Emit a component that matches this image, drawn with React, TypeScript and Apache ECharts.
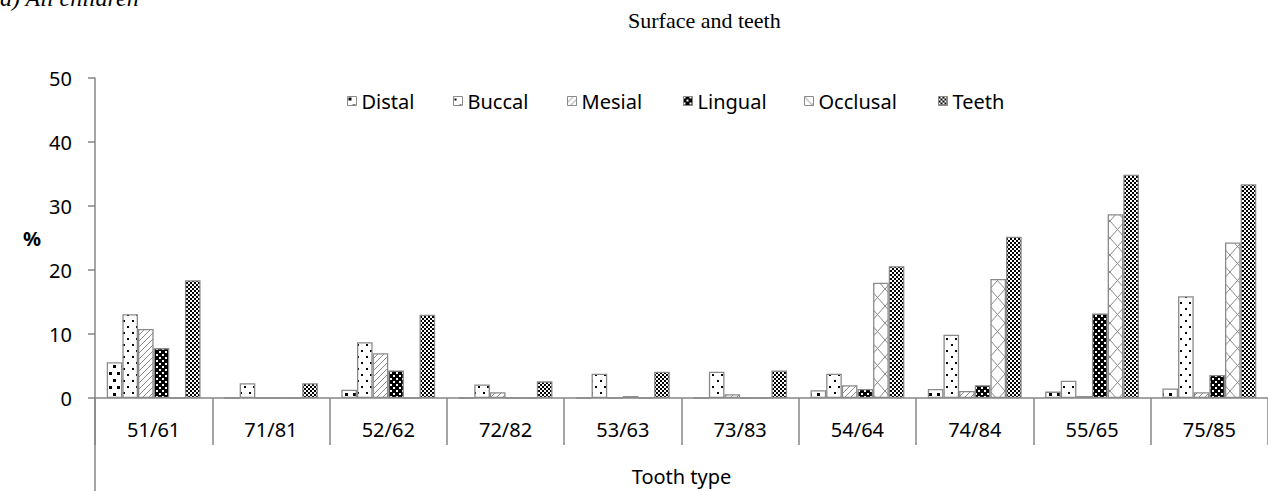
import React, { useEffect, useRef } from "react";
import * as echarts from "echarts";

const categories = ["51/61", "71/81", "52/62", "72/82", "53/63", "73/83", "54/64", "74/84", "55/65", "75/85"];
const seriesNames = ["Distal", "Buccal", "Mesial", "Lingual", "Occlusal", "Teeth"];
const distal = [5.6, 0, 1.3, 0, 0, 0, 1.2, 1.4, 1.0, 1.5];
const buccal = [13.1, 2.3, 8.7, 2.1, 3.8, 4.1, 3.8, 9.9, 2.7, 15.9];
const mesial = [10.8, 0, 7.0, 0.9, 0, 0.6, 2.0, 1.1, 0.3, 0.9];
const lingual = [7.8, 0, 4.3, 0, 0.3, 0, 1.4, 2.0, 13.2, 3.6];
const occlusal = [0, 0, 0, 0, 0, 0, 18.0, 18.6, 28.7, 24.3];
const teeth = [18.4, 2.3, 13.0, 2.6, 4.1, 4.3, 20.6, 25.2, 34.9, 33.4];
const yTicks = [0, 10, 20, 30, 40, 50];

const GREY = "#8a8a8a";
const AXIS = "#868686";
const FONT = "'Noto Sans', 'Open Sans', sans-serif";

function makeTile(w: number, h: number, draw: (ctx: CanvasRenderingContext2D) => void) {
  const c = document.createElement("canvas");
  c.width = w;
  c.height = h;
  const ctx = c.getContext("2d")!;
  ctx.fillStyle = "#ffffff";
  ctx.fillRect(0, 0, w, h);
  draw(ctx);
  return { image: c, repeat: "repeat" as const };
}

function patterns() {
  const distalP = makeTile(8, 14, (ctx) => {
    ctx.fillStyle = "#000";
    ctx.fillRect(1, 1, 3, 3);
    ctx.fillRect(5, 8, 3, 3);
  });
  const buccalP = makeTile(9, 12, (ctx) => {
    ctx.fillStyle = "#000";
    ctx.fillRect(1, 2, 2, 2);
    ctx.fillRect(6, 8, 2, 2);
  });
  const mesialP = makeTile(6, 6, (ctx) => {
    ctx.strokeStyle = "#8a8a8a";
    ctx.lineWidth = 1;
    ctx.beginPath();
    ctx.moveTo(-1, 7);
    ctx.lineTo(7, -1);
    ctx.stroke();
  });
  const lingualP = makeTile(6, 6, (ctx) => {
    ctx.fillStyle = "#000";
    ctx.fillRect(0, 0, 6, 6);
    ctx.fillStyle = "#fff";
    ctx.fillRect(0, 0, 2, 2);
    ctx.fillRect(3, 3, 2, 2);
  });
  const occlusalP = makeTile(15, 17, (ctx) => {
    ctx.strokeStyle = "#8a8a8a";
    ctx.lineWidth = 1;
    ctx.beginPath();
    ctx.moveTo(0, 0);
    ctx.lineTo(15, 17);
    ctx.moveTo(15, 0);
    ctx.lineTo(0, 17);
    ctx.stroke();
  });
  const teethP = makeTile(4, 4, (ctx) => {
    ctx.fillStyle = "#000";
    ctx.fillRect(0, 0, 2, 2);
    ctx.fillRect(2, 2, 2, 2);
  });
  return [distalP, buccalP, mesialP, lingualP, occlusalP, teethP];
}

const legendLefts = [342, 448, 562, 678, 799, 933];

export default function App() {
  const ref = useRef<HTMLDivElement>(null);
  useEffect(() => {
    if (!ref.current) return;
    const chart = echarts.init(ref.current, undefined, { renderer: "svg" });
    const pats = patterns();
    const values = [distal, buccal, mesial, lingual, occlusal, teeth];
    const option: any = {
      animation: false,
      backgroundColor: "#ffffff",
      grid: { left: 95, right: 0, top: 78, bottom: 93, containLabel: false },
      legend: seriesNames.map((n, i) => ({
        data: [n],
        left: legendLefts[i],
        top: 86,
        itemWidth: 9,
        itemHeight: 9,
        itemGap: 0,
        icon: "rect",
        itemStyle: { borderColor: GREY, borderWidth: 1 },
        textStyle: { fontFamily: FONT, fontSize: 20, color: "#000" },
        selectedMode: false,
      })),
      xAxis: {
        type: "category",
        data: categories,
        axisLine: { show: true, lineStyle: { color: AXIS, width: 1.5 } },
        axisTick: { show: true, alignWithLabel: false, length: 47, lineStyle: { color: AXIS, width: 1.5 } },
        axisLabel: { fontFamily: FONT, fontSize: 20, color: "#000", margin: 21, interval: 0 },
        splitLine: { show: false },
      },
      yAxis: {
        type: "value",
        min: yTicks[0],
        max: yTicks[yTicks.length - 1],
        interval: 10,
        axisLine: { show: true, lineStyle: { color: AXIS, width: 1.5 } },
        axisTick: { show: true, length: 7, lineStyle: { color: AXIS, width: 1.5 } },
        axisLabel: { fontFamily: FONT, fontSize: 20, color: "#000", margin: 23 },
        splitLine: { show: false },
      },
      series: seriesNames.map((n, i) => ({
        name: n,
        type: "bar",
        data: values[i],
        barGap: "0%",
        barCategoryGap: "20%",
        itemStyle: { color: pats[i], borderColor: GREY, borderWidth: 1.3 },
      })),
      graphic: [
        {
          type: "text",
          x: 0,
          y: -2,
          style: {
            text: "a) All children",
            font: "italic 24px 'Liberation Serif', 'Times New Roman', serif",
            fill: "#000",
            verticalAlign: "middle",
          },
        },
        {
          type: "text",
          x: 628,
          y: 20,
          style: {
            text: "Surface and teeth",
            font: "22px 'Liberation Serif', 'Times New Roman', serif",
            fill: "#000",
            verticalAlign: "middle",
          },
        },
        {
          type: "text",
          x: 32,
          y: 238,
          style: {
            text: "%",
            font: "bold 20px 'Noto Sans', sans-serif",
            fill: "#000",
            align: "center",
            verticalAlign: "middle",
          },
        },
        {
          type: "line",
          shape: { x1: 95, y1: 398, x2: 95, y2: 491 },
          style: { stroke: AXIS, lineWidth: 1.5 },
        },
        {
          type: "text",
          x: 681.5,
          y: 476,
          style: {
            text: "Tooth type",
            font: "20px 'Noto Sans', sans-serif",
            fill: "#000",
            align: "center",
            verticalAlign: "middle",
          },
        },
      ],
    };
    chart.setOption(option);
    return () => chart.dispose();
  }, []);
  return (
    <div
      ref={ref}
      style={{ position: "fixed", left: 0, top: 0, width: 1268, height: 491 }}
    />
  );
}
